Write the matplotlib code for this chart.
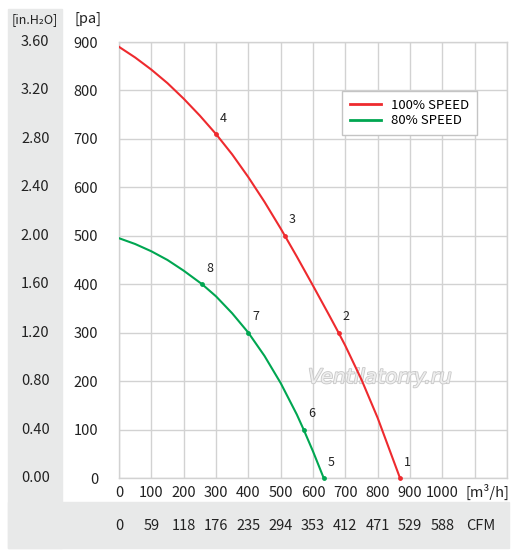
import matplotlib
matplotlib.use("Agg")
import matplotlib.pyplot as plt
from matplotlib.patches import Rectangle
import matplotlib.patheffects as pe

plt.rcParams['font.family'] = ['Noto Sans CJK JP', 'DejaVu Sans']

# fan curves
flow_100 = [0, 50, 100, 150, 200, 250, 300, 350, 400, 450, 500, 513, 550, 600, 650, 679, 700, 750, 800, 869]
pres_100 = [890, 868, 843, 815, 783, 748, 710, 668, 621, 570, 515, 500, 457, 397, 336, 300, 273, 203, 124, 0]
flow_80 = [0, 50, 100, 150, 200, 257, 300, 350, 400, 450, 500, 550, 571, 600, 633]
pres_80 = [495, 483, 468, 450, 428, 400, 375, 340, 300, 252, 196, 131, 100, 55, 0]

# numbered duty points
pts_100_q = [869, 679, 513, 300]
pts_100_p = [0, 300, 500, 710]
pts_100_lab = ['1', '2', '3', '4']
pts_80_q = [633, 571, 400, 257]
pts_80_p = [0, 100, 300, 400]
pts_80_lab = ['5', '6', '7', '8']

x_ticks = [0, 100, 200, 300, 400, 500, 600, 700, 800, 900, 1000]
cfm_labels = ['0', '59', '118', '176', '235', '294', '353', '412', '471', '529', '588']
y_ticks = [0, 100, 200, 300, 400, 500, 600, 700, 800, 900]
inch_labels = ['0.00', '0.40', '0.80', '1.20', '1.60', '2.00', '2.40', '2.80', '3.20', '3.60']

red = '#ee2a2e'
green = '#00a651'
grid_c = '#d2d2d2'

W, H = 527, 558
fig = plt.figure(figsize=(W / 100, H / 100), dpi=100)

# grey panels behind the secondary scales
fig.patches.append(Rectangle((8 / W, 1 - 548 / H), (62 - 8) / W, (548 - 9) / H,
                             transform=fig.transFigure, color='#e8e9e9', zorder=-5))
fig.patches.append(Rectangle((8 / W, 1 - 548 / H), (509 - 8) / W, (548 - 502) / H,
                             transform=fig.transFigure, color='#e8e9e9', zorder=-5))

ax = fig.add_axes([119 / W, 1 - 478 / H, (507 - 119) / W, (478 - 42) / H])
ax.set_xlim(0, 1200)
ax.set_ylim(0, 900)
ax.set_xticks(range(0, 1201, 100))
ax.set_xticklabels([str(v) if v in x_ticks else '' for v in range(0, 1201, 100)])
ax.set_yticks(y_ticks)
ax.tick_params(length=0, labelsize=10.5, colors='#222222')
ax.tick_params(axis='y', pad=15)
ax.tick_params(axis='x', pad=6)
ax.grid(True, color=grid_c, lw=1)
ax.set_axisbelow(True)
for s in ax.spines.values():
    s.set_color(grid_c)
    s.set_linewidth(1)

ax.plot(flow_100, pres_100, color=red, lw=1.5, label='100% SPEED', zorder=3)
ax.plot(flow_80, pres_80, color=green, lw=1.5, label='80% SPEED', zorder=3)
ax.scatter(pts_100_q, pts_100_p, s=6, color=red, zorder=4, clip_on=False)
ax.scatter(pts_80_q, pts_80_p, s=6, color=green, zorder=4, clip_on=False)
for q, p, t in zip(pts_100_q + pts_80_q, pts_100_p + pts_80_p, pts_100_lab + pts_80_lab):
    ax.annotate(t, (q, p), xytext=(3, 9), textcoords='offset points',
                fontsize=9, color='#222222', annotation_clip=False)

leg = ax.legend(loc='upper right', bbox_to_anchor=(0.923, 0.888), fontsize=9.5,
                frameon=True, fancybox=False, edgecolor='#c4c4c4', framealpha=1,
                handlelength=2.3, borderaxespad=0, labelspacing=0.2, borderpad=0.6)
for line in leg.get_lines():
    line.set_linewidth(2)

# watermark
ax.text(807, 207, 'Ventilatorry.ru', fontsize=14.5, style='italic', color='#eeeeee',
        family='DejaVu Sans', ha='center', va='center', zorder=2,
        path_effects=[pe.withStroke(linewidth=1.2, foreground='#c8c8c8')])

# inch water scale and headers
ytr = ax.get_yaxis_transform()
for v, t in zip(y_ticks, inch_labels):
    ax.text(-0.216, v, t, transform=ytr, ha='center', va='center', fontsize=10.5,
            color='#222222')
fig.text(35 / W, 1 - 20 / H, '[in.H₂O]', ha='center', va='center', fontsize=9,
         color='#222222')
fig.text(88 / W, 1 - 19 / H, '[pa]', ha='center', va='center', fontsize=10.5,
         color='#222222')

# CFM row and unit labels
xtr = ax.get_xaxis_transform()
for v, t in zip(x_ticks, cfm_labels):
    ax.text(v, -48 / 436, t, transform=xtr, ha='center', va='center', fontsize=10.5,
            color='#222222')
ax.text(1120, -48 / 436, 'CFM', transform=xtr, ha='center', va='center',
        fontsize=10.5, color='#222222')
ax.text(1138, -14 / 436, '[m³/h]', transform=xtr, ha='center', va='center',
        fontsize=10.5, color='#222222')

fig.savefig('out.png', dpi=100)
